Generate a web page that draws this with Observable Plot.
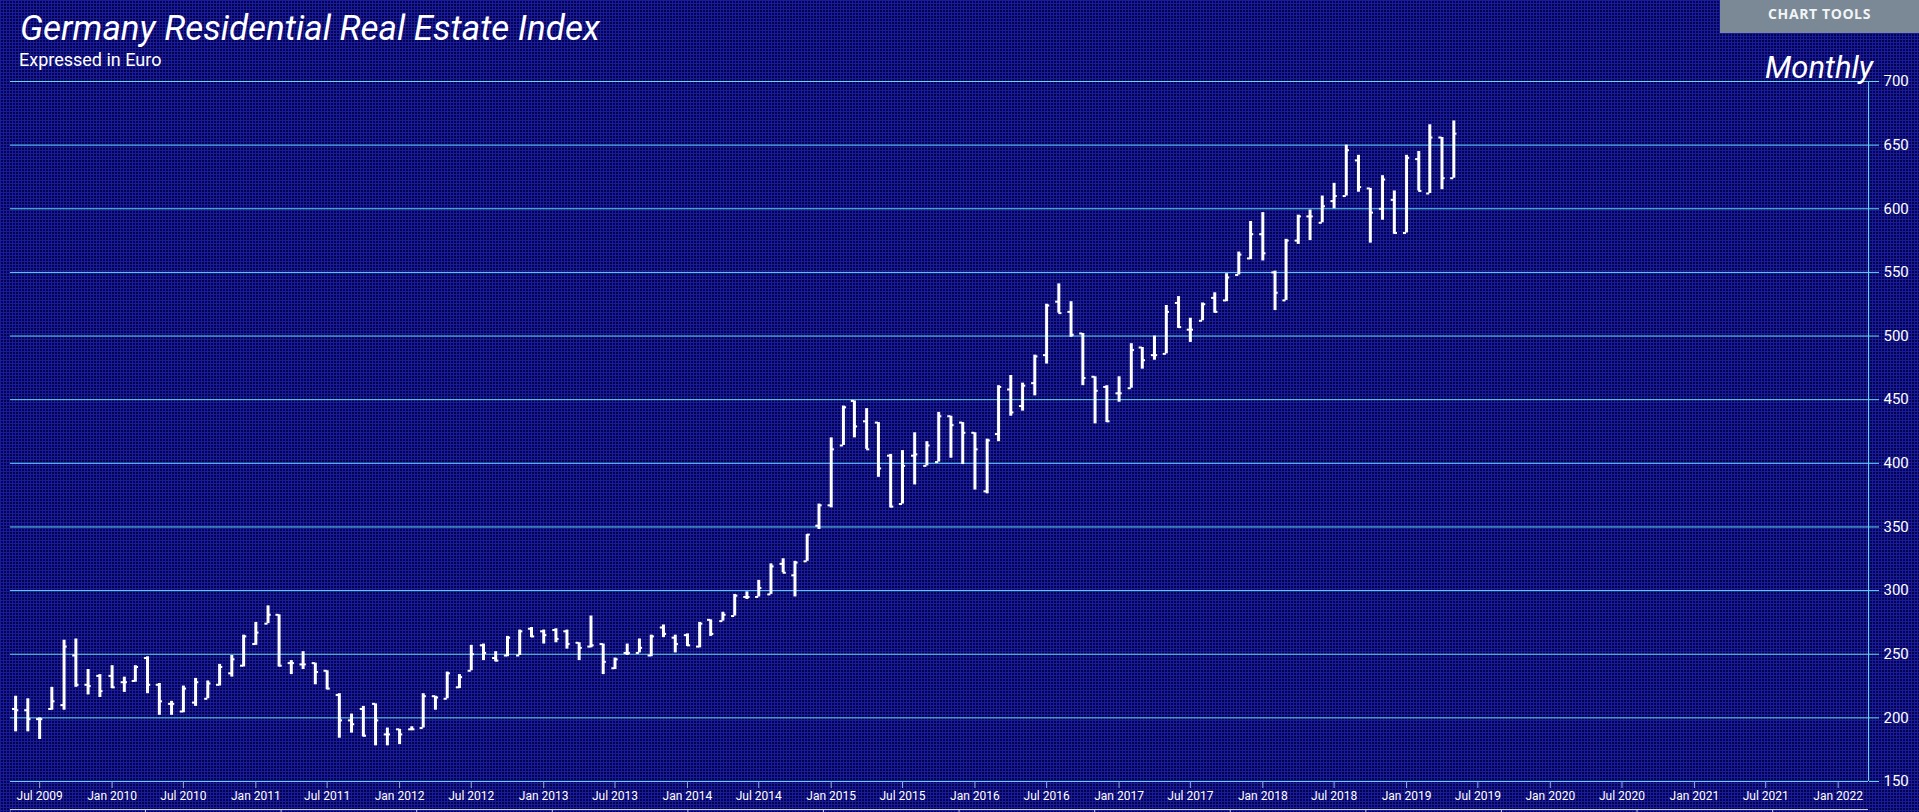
<!DOCTYPE html>
<html>
<head>
<meta charset="utf-8">
<script src="https://cdn.jsdelivr.net/npm/d3@7"></script>
<script src="https://cdn.jsdelivr.net/npm/@observablehq/plot@0.6"></script>
<style>
html, body { margin: 0; padding: 0; }
body {
  width: 1919px; height: 812px; overflow: hidden; position: relative;
  font-family: Roboto, "Noto Sans", sans-serif;
  background-color: #03034c;
  background-image:
    linear-gradient(to right, rgba(28,28,165,0.9) 1px, transparent 1px),
    linear-gradient(to bottom, rgba(28,28,165,0.9) 1px, transparent 1px);
  background-size: 3px 3px;
}
#chart { position: absolute; left: 0; top: 0; }
.title { position: absolute; left: 20px; top: 11px; font-size: 35px; font-style: italic; color: #fff; line-height: 1; white-space: nowrap; }
.subtitle { position: absolute; left: 19px; top: 51px; font-size: 18px; color: #fff; line-height: 1; white-space: nowrap; }
.freq { position: absolute; right: 46px; top: 52px; font-size: 31px; font-style: italic; color: #fff; line-height: 1; white-space: nowrap; }
.tools { position: absolute; left: 1720px; top: 0; width: 199px; height: 33px; background: #7b8996; color: #f2f4f6;
  font-family: "Open Sans", Roboto, sans-serif; font-weight: 700; font-size: 14px; letter-spacing: 0.6px; text-align: center; line-height: 28px; }
.nav { position: absolute; left: 10px; top: 809px; width: 1858px; height: 3px; border-top: 1px solid #c9cce0;
  background-image: linear-gradient(to right, #c9cce0 1px, transparent 1px); background-size: 135.6px 3px; background-position: 135px 0; background-repeat: repeat-x; }
</style>
</head>
<body>
<div id="chart"></div>
<div class="title">Germany Residential Real Estate Index</div>
<div class="subtitle">Expressed in Euro</div>
<div class="freq">Monthly</div>
<div class="tools">CHART TOOLS</div>
<div class="nav"></div>
<script>
const months = [
  "2009-05","2009-06","2009-07","2009-08","2009-09","2009-10","2009-11","2009-12",
  "2010-01","2010-02","2010-03","2010-04","2010-05","2010-06","2010-07","2010-08","2010-09","2010-10","2010-11","2010-12",
  "2011-01","2011-02","2011-03","2011-04","2011-05","2011-06","2011-07","2011-08","2011-09","2011-10","2011-11","2011-12",
  "2012-01","2012-02","2012-03","2012-04","2012-05","2012-06","2012-07","2012-08","2012-09","2012-10","2012-11","2012-12",
  "2013-01","2013-02","2013-03","2013-04","2013-05","2013-06","2013-07","2013-08","2013-09","2013-10","2013-11","2013-12",
  "2014-01","2014-02","2014-03","2014-04","2014-05","2014-06","2014-07","2014-08","2014-09","2014-10","2014-11","2014-12",
  "2015-01","2015-02","2015-03","2015-04","2015-05","2015-06","2015-07","2015-08","2015-09","2015-10","2015-11","2015-12",
  "2016-01","2016-02","2016-03","2016-04","2016-05","2016-06","2016-07","2016-08","2016-09","2016-10","2016-11","2016-12",
  "2017-01","2017-02","2017-03","2017-04","2017-05","2017-06","2017-07","2017-08","2017-09","2017-10","2017-11","2017-12",
  "2018-01","2018-02","2018-03","2018-04","2018-05","2018-06","2018-07","2018-08","2018-09","2018-10","2018-11","2018-12",
  "2019-01","2019-02","2019-03","2019-04","2019-05"
];
const opens = [
  207,206,199,207,210,249,226,233,233,228,229,247,226,211,205,212,215,226,235,241,
  258,274,281,243,242,243,237,218,198,207,211,187,191,191,192,217,215,224,237,257,
  247,249,249,270,268,269,268,259,256,258,239,251,251,249,271,263,265,256,277,276,
  280,295,295,297,321,312,323,351,367,414,449,433,432,406,368,406,398,401,437,432,
  424,378,423,458,445,463,485,527,519,502,468,460,455,459,491,485,486,526,505,512,
  530,528,548,561,580,550,528,575,594,589,606,610,638,616,600,607,581,639,612,656,624
];
const highs = [
  217,215,200,224,261,262,238,234,241,232,241,248,227,213,225,231,229,242,249,265,
  275,288,281,245,252,243,237,219,203,209,211,192,191,193,219,217,236,234,257,258,
  252,264,269,271,269,270,269,259,280,258,247,258,262,265,273,265,266,275,277,283,
  297,299,308,321,325,323,344,368,420,445,449,443,432,407,410,424,417,440,437,432,
  424,419,461,469,463,485,525,541,527,502,468,461,468,494,491,500,524,531,514,526,
  534,549,566,590,597,551,576,595,599,610,620,650,642,616,626,614,642,645,666,656,669
];
const lows = [
  189,189,183,206,206,224,218,216,223,220,228,219,202,202,204,209,215,225,232,240,
  257,274,240,234,238,226,222,184,188,185,178,178,179,190,192,206,215,223,237,245,
  244,248,249,263,258,259,254,245,255,234,238,249,251,248,263,251,256,255,264,276,
  280,293,295,297,314,295,323,348,365,414,420,411,389,365,368,383,398,401,404,399,
  379,376,417,437,441,453,478,518,499,461,431,432,448,459,474,481,486,506,495,512,
  518,527,548,560,559,520,528,572,575,589,600,610,613,573,591,580,581,614,612,615,624
];
const closes = [
  206,199,199,213,256,226,225,221,224,228,240,226,213,211,223,228,227,240,246,264,
  267,281,241,243,242,236,223,198,195,186,198,187,187,191,217,216,235,232,250,251,
  245,263,268,264,265,262,258,255,257,244,246,251,255,264,266,258,257,274,266,281,
  296,295,302,319,314,322,344,367,411,444,429,411,396,366,398,407,414,437,430,424,
  411,418,460,440,461,484,524,518,501,467,457,433,455,489,481,485,519,507,505,525,
  519,546,564,580,565,534,575,594,594,602,610,646,617,597,623,581,640,614,656,624,659
];
const xTickMonths = [
  "2009-07","2010-01","2010-07","2011-01","2011-07","2012-01","2012-07","2013-01","2013-07",
  "2014-01","2014-07","2015-01","2015-07","2016-01","2016-07","2017-01","2017-07","2018-01",
  "2018-07","2019-01","2019-07","2020-01","2020-07","2021-01","2021-07","2022-01"
];
const yTicks = [150, 200, 250, 300, 350, 400, 450, 500, 550, 600, 650, 700];
const xStart = "2009-04-18";
const xEnd = "2022-03-19";

const toDate = (m) => new Date(m + "-01T00:00:00Z");
const data = months.map((m, i) => ({
  date: toDate(m), open: opens[i], high: highs[i], low: lows[i], close: closes[i]
}));
const xTicks = xTickMonths.map(toDate);
const xDomain = [new Date(xStart + "T00:00:00Z"), new Date(xEnd + "T00:00:00Z")];
const DAY = 864e5;
const gridColor = "#62d8f6";

const chart = Plot.plot({
  width: 1919,
  height: 812,
  marginTop: 81,
  marginBottom: 31,
  marginLeft: 10,
  marginRight: 51,
  style: { background: "transparent", color: "#fff", fontFamily: "Roboto, sans-serif", overflow: "visible" },
  x: { type: "utc", domain: xDomain },
  y: { domain: [150, 700] },
  marks: [
    Plot.gridY({ ticks: yTicks, stroke: gridColor, strokeOpacity: 1, strokeWidth: 1 }),
    Plot.ruleX([xDomain[1]], { stroke: gridColor, strokeWidth: 1 }),
    Plot.axisY({ ticks: yTicks, anchor: "right", tickSize: 10, tickPadding: 5, fontSize: 15, stroke: gridColor, fill: "#fff", label: null }),
    Plot.axisX({ ticks: xTicks, anchor: "bottom", tickSize: 7, tickPadding: 3, fontSize: 12, tickFormat: d3.utcFormat("%b %Y"), stroke: "#8fb0d6", fill: "#fff", label: null }),
    Plot.ruleX(data, { x: "date", y1: "low", y2: "high", stroke: "#fff", strokeWidth: 3 }),
    Plot.ruleY(data, { y: "open", x1: (d) => new Date(+d.date - 8 * DAY), x2: "date", stroke: "#fff", strokeWidth: 2 }),
    Plot.ruleY(data, { y: "close", x1: "date", x2: (d) => new Date(+d.date + 8 * DAY), stroke: "#fff", strokeWidth: 2 })
  ]
});
document.getElementById("chart").appendChild(chart);
</script>
</body>
</html>
